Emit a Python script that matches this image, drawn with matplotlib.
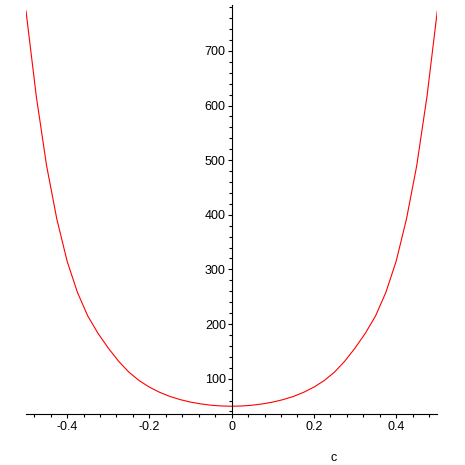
import numpy as np
import matplotlib
matplotlib.use('Agg')
import matplotlib.pyplot as plt
from matplotlib.ticker import MultipleLocator

# values, right half (c >= 0); left half is the mirror
c_half = [0.0, 0.025, 0.05, 0.075, 0.1, 0.125, 0.15, 0.175, 0.2, 0.225, 0.25,
          0.275, 0.3, 0.325, 0.35, 0.375, 0.4, 0.425, 0.45, 0.475, 0.5]
f_half = [49.5, 50, 51.4, 53.8, 57.1, 61.6, 67.4, 75, 84.5, 96.5, 112,
          132, 156, 183, 215, 258, 315, 392, 490, 617, 773]

c = [-x for x in c_half[:0:-1]] + c_half
f = f_half[:0:-1] + f_half

plt.rcParams['font.family'] = ['Liberation Sans', 'DejaVu Sans']

fig = plt.figure(figsize=(4.65, 4.65), dpi=100)
ax = fig.add_axes([26/465, 51/465, 411.3/465, 409/465])

ax.plot(c, f, color='#ff0000', lw=0.8)

ax.set_xlim(-0.5, 0.5)
ax.set_ylim(35.3, 784)

ax.spines['top'].set_visible(False)
ax.spines['right'].set_visible(False)
ax.spines['left'].set_position(('data', 0))
for s in ('left', 'bottom'):
    ax.spines[s].set_linewidth(0.8)

ax.xaxis.set_major_locator(MultipleLocator(0.2))
ax.xaxis.set_minor_locator(MultipleLocator(0.04))
ax.yaxis.set_major_locator(MultipleLocator(100))
ax.yaxis.set_minor_locator(MultipleLocator(20))
ax.set_xticks([-0.4, -0.2, 0, 0.2, 0.4])
ax.set_xticklabels(['-0.4', '-0.2', '0', '0.2', '0.4'])
ax.set_yticks([100, 200, 300, 400, 500, 600, 700])

ax.tick_params(which='major', length=3.2, width=0.8, labelsize=9, pad=2)
ax.tick_params(which='minor', length=2.2, width=0.8)
ax.tick_params(axis='y', pad=1)

fig.text(334/465, 1 - 458/465, 'c', ha='center', va='center', fontsize=9)

fig.savefig('out.png', dpi=100)
